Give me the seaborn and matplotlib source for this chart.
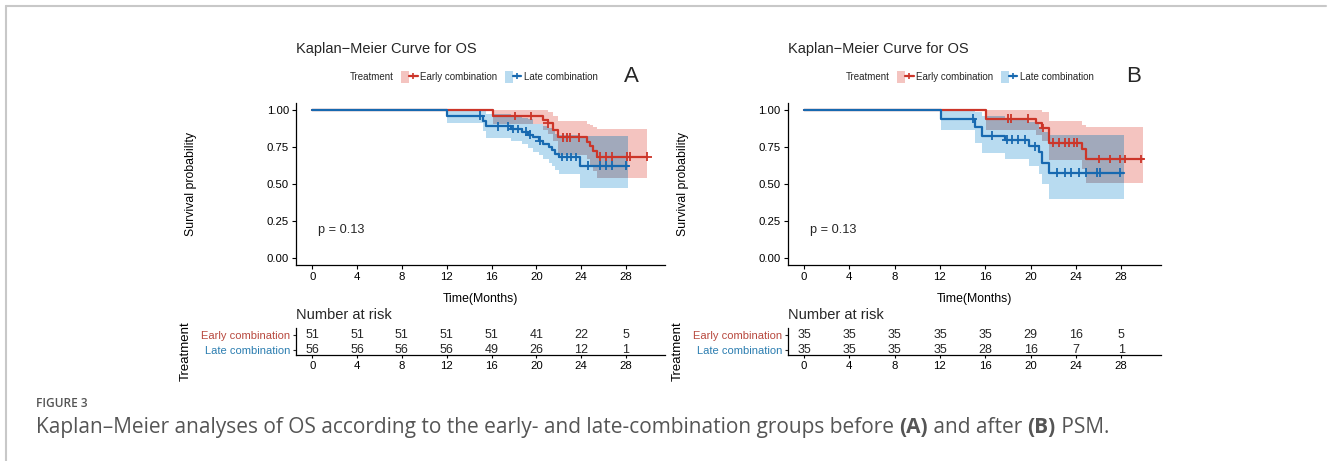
import numpy as np
import pandas as pd
import seaborn as sns
import matplotlib.pyplot as plt
from matplotlib.patches import Patch
from matplotlib.lines import Line2D
from matplotlib.legend_handler import HandlerTuple

sns.set_theme(style="ticks")
plt.rcParams['font.family'] = ['Liberation Sans', 'DejaVu Sans']

groups = ['Early combination', 'Late combination']
risk_times = [0, 4, 8, 12, 16, 20, 24, 28]

# ---- panel A (before PSM) ----
a_early_t = [0, 16.1, 20.6, 21.0, 21.5, 21.9, 24.5, 24.8, 25.1, 25.4]
a_early_s = [1.0, 0.961, 0.937, 0.912, 0.866, 0.818, 0.788, 0.757, 0.722, 0.685]
a_early_lo = [1.0, 0.91, 0.87, 0.84, 0.79, 0.70, 0.67, 0.63, 0.59, 0.54]
a_early_hi = [1.0, 1.0, 1.0, 0.99, 0.96, 0.93, 0.91, 0.90, 0.89, 0.876]
a_early_cens = [18.1, 19.5, 21.0, 22.4, 22.7, 23.0, 23.8, 25.7, 26.2, 26.8, 28.1, 28.4, 29.9]
a_early_end = 29.9

a_late_t = [0, 12.0, 15.2, 15.5, 17.7, 18.7, 19.3, 19.7, 20.2, 20.6, 21.1, 21.4, 21.7, 22.0, 23.9]
a_late_s = [1.0, 0.964, 0.929, 0.893, 0.874, 0.855, 0.836, 0.816, 0.795, 0.774, 0.752, 0.730, 0.706, 0.683, 0.625]
a_late_lo = [1.0, 0.915, 0.86, 0.815, 0.79, 0.77, 0.745, 0.72, 0.695, 0.67, 0.645, 0.62, 0.595, 0.565, 0.47]
a_late_hi = [1.0, 1.0, 1.0, 0.975, 0.965, 0.95, 0.94, 0.925, 0.91, 0.895, 0.88, 0.86, 0.84, 0.83, 0.825]
a_late_cens = [15.0, 16.6, 17.5, 17.9, 18.4, 19.1, 19.4, 20.3, 22.3, 22.7, 23.1, 23.5, 24.6, 25.7, 26.2, 26.8, 28.0]
a_late_end = 28.2

a_early_risk = [51, 51, 51, 51, 51, 41, 22, 5]
a_late_risk = [56, 56, 56, 56, 49, 26, 12, 1]

# ---- panel B (after PSM) ----
b_early_t = [0, 16.1, 20.5, 21.0, 21.6, 24.5, 24.9]
b_early_s = [1.0, 0.943, 0.913, 0.880, 0.780, 0.740, 0.670]
b_early_lo = [1.0, 0.87, 0.83, 0.79, 0.66, 0.60, 0.505]
b_early_hi = [1.0, 1.0, 1.0, 0.99, 0.93, 0.90, 0.885]
b_early_cens = [18.0, 18.3, 19.8, 21.1, 22.0, 22.5, 23.0, 23.4, 23.8, 24.1, 26.0, 27.0, 27.9, 28.3, 29.7]
b_early_end = 29.9

b_late_t = [0, 12.1, 15.1, 15.7, 17.7, 19.9, 20.7, 21.0, 21.6]
b_late_s = [1.0, 0.943, 0.886, 0.829, 0.800, 0.757, 0.714, 0.643, 0.577]
b_late_lo = [1.0, 0.87, 0.78, 0.71, 0.67, 0.62, 0.57, 0.50, 0.40]
b_late_hi = [1.0, 1.0, 0.99, 0.96, 0.95, 0.92, 0.89, 0.85, 0.83]
b_late_cens = [14.9, 16.6, 17.9, 18.4, 18.9, 19.5, 20.4, 22.3, 23.0, 23.6, 24.3, 24.9, 25.9, 26.1, 27.9]
b_late_end = 28.2

b_early_risk = [35, 35, 35, 35, 35, 29, 16, 5]
b_late_risk = [35, 35, 35, 35, 28, 16, 7, 1]

line_col = {'Early combination': '#CC3529', 'Late combination': '#1769B0'}
label_col = {'Early combination': '#B8493F', 'Late combination': '#2B7DB0'}
band_col = {'Early combination': '#F4C4C0', 'Late combination': '#B8DBF0'}
overlap_col = '#A1A9BB'

W, H = 1328, 461
fig = plt.figure(figsize=(W / 100, H / 100), dpi=100)


def fx(px):
    return px / W


def fy(py):
    return 1 - py / H


def step_at(t, v, x):
    idx = np.searchsorted(t, x, side='right') - 1
    return np.asarray(v)[idx]


def km_panel(x0, ppm, spine, curves, risks, letter, leg_x, treat_x, letter_x):
    xl = (spine - x0) / ppm
    xr = 31.5
    wpx = (xr - xl) * ppm
    ax = fig.add_axes([fx(spine), fy(265), fx(wpx), (265 - 103) / H])
    tab = fig.add_axes([fx(spine), fy(355), fx(wpx), 27.5 / H])

    # confidence bands
    for g in ['Late combination', 'Early combination']:
        t, s, lo, hi, cens, end = curves[g]
        ax.fill_between(np.append(t, end), np.append(lo, lo[-1]), np.append(hi, hi[-1]),
                        step='post', color=band_col[g], lw=0)
    # overlap of the two bands
    te, _, loe, hie, _, ende = curves['Early combination']
    tl, _, lol, hil, _, endl = curves['Late combination']
    grid = np.unique(np.concatenate([te, tl, [min(ende, endl)]]))
    grid = grid[grid <= min(ende, endl)]
    olo = np.maximum(step_at(te, loe, grid), step_at(tl, lol, grid))
    ohi = np.minimum(step_at(te, hie, grid), step_at(tl, hil, grid))
    ax.fill_between(grid, olo, ohi, where=ohi > olo, step='post', color=overlap_col, lw=0)

    rows, crow = [], []
    for g in groups:
        t, s, lo, hi, cens, end = curves[g]
        for ti, si in zip(list(t) + [end], list(s) + [s[-1]]):
            rows.append({'time': ti, 'surv': si, 'group': g})
        for c in cens:
            crow.append({'time': c, 'surv': step_at(t, s, c), 'group': g})
    df = pd.DataFrame(rows)
    cdf = pd.DataFrame(crow)
    sns.lineplot(data=df, x='time', y='surv', hue='group', hue_order=groups, palette=line_col,
                 drawstyle='steps-post', estimator=None, sort=False, legend=False, lw=1.6, ax=ax)
    sns.scatterplot(data=cdf, x='time', y='surv', hue='group', hue_order=groups, palette=line_col,
                    marker='+', s=40, linewidth=1.3, legend=False, ax=ax, zorder=4)

    ax.set_xlim(xl, xr)
    ax.set_ylim(-0.05, 1.05)
    ax.set_xticks(risk_times)
    ax.set_yticks([0, 0.25, 0.5, 0.75, 1.0])
    ax.set_yticklabels(['0.00', '0.25', '0.50', '0.75', '1.00'])
    ax.set_xlabel('Time(Months)', fontsize=8.8, color='black')
    ax.set_ylabel('Survival probability', fontsize=8.8, color='black')
    ax.xaxis.set_label_coords(0.5, -0.175)
    ax.yaxis.set_label_coords(-(spine - (spine - 106 + 7)) / wpx, 0.5)
    ax.tick_params(labelsize=8.2, length=3, width=0.8, pad=2, colors='black')
    for sp in ['top', 'right']:
        ax.spines[sp].set_visible(False)
    for sp in ['left', 'bottom']:
        ax.spines[sp].set_color('black')
        ax.spines[sp].set_linewidth(0.9)
    ax.text(0.5, 0.19, 'p = 0.13', fontsize=9.2, va='center', ha='left')
    ax.set_title('Kaplan\u2212Meier Curve for OS', loc='left', fontsize=10.5, pad=0, x=0,
                 y=(265 - 49) / 162, va='center')

    # legend
    handles = [(Patch(facecolor=band_col[g], edgecolor='none'),
                Line2D([], [], color=line_col[g], lw=1.6, marker='+', ms=5, mew=1.2)) for g in groups]
    fig.legend(handles, groups, handler_map={tuple: HandlerTuple(ndivide=None, pad=0)},
               loc='center left', bbox_to_anchor=(fx(leg_x), fy(77)), ncol=2, frameon=False,
               fontsize=7, handlelength=1.7, handleheight=1.5, handletextpad=0.25,
               columnspacing=0.8, borderpad=0, borderaxespad=0)
    fig.text(fx(treat_x), fy(77), 'Treatment', fontsize=7, ha='left', va='center')
    fig.text(fx(letter_x), fy(77), letter, fontsize=16, ha='left', va='center')

    # risk table
    for yv, g, n in [(2, 'Early combination', risks[0]), (1, 'Late combination', risks[1])]:
        for ti, ni in zip(risk_times, n):
            tab.text(ti, yv, str(ni), ha='center', va='center', fontsize=9)
    tab.set_xlim(xl, xr)
    tab.set_ylim(0.65, 2.5)
    tab.set_xticks(risk_times)
    tab.set_yticks([2, 1])
    tab.set_yticklabels(groups, fontsize=8)
    for lab, g in zip(tab.get_yticklabels(), groups):
        lab.set_color(label_col[g])
    tab.tick_params(axis='x', labelsize=8.2, length=2.5, width=0.8, pad=1.5, colors='black')
    tab.tick_params(axis='y', length=2.5, width=0.8, pad=1.5)
    for sp in ['top', 'right']:
        tab.spines[sp].set_visible(False)
    for sp in ['left', 'bottom']:
        tab.spines[sp].set_color('black')
        tab.spines[sp].set_linewidth(0.9)
    tab.set_xlabel('')
    tab.set_ylabel('Treatment', fontsize=9.5, color='black')
    tab.yaxis.set_label_coords(-(spine - (spine - 111 + 7)) / wpx, 0.15)
    tab.set_title('Number at risk', loc='left', fontsize=10.5, pad=0, x=0,
                  y=(355 - 315) / 27.5, va='center')
    return ax, tab


curves_a = {
    'Early combination': (a_early_t, a_early_s, a_early_lo, a_early_hi, a_early_cens, a_early_end),
    'Late combination': (a_late_t, a_late_s, a_late_lo, a_late_hi, a_late_cens, a_late_end),
}
curves_b = {
    'Early combination': (b_early_t, b_early_s, b_early_lo, b_early_hi, b_early_cens, b_early_end),
    'Late combination': (b_late_t, b_late_s, b_late_lo, b_late_hi, b_late_cens, b_late_end),
}

ax_a, tab_a = km_panel(312.3, 11.2, 296, curves_a, (a_early_risk, a_late_risk), 'A', 401, 350, 624)
ax_b, tab_b = km_panel(804, 11.33, 787.7, curves_b, (b_early_risk, b_late_risk), 'B', 897, 846, 1126)

# page frame
fig.add_artist(Line2D([fx(6), fx(1326)], [fy(6), fy(6)], color='#C8C8C8', lw=1.5))
fig.add_artist(Line2D([fx(6), fx(6)], [fy(6), 0], color='#C8C8C8', lw=1.5))

# caption
cap_font = ['Open Sans', 'DejaVu Sans']
cap_col = '#555555'
cap_size = 15
fig.text(fx(36), fy(403), 'FIGURE 3', fontsize=8.6, family=cap_font, weight='semibold',
         color=cap_col, va='center')
parts = [('Kaplan\u2013Meier analyses of OS according to the early- and late-combination groups before ', 'normal'),
         ('(A)', 'bold'), (' and after ', 'normal'), ('(B)', 'bold'), (' PSM.', 'normal')]
prev = fig.text(fx(36), fy(438), parts[0][0], fontsize=cap_size, family=cap_font,
                color=cap_col, va='bottom')
for txt, wt in parts[1:]:
    prev = ax_a.annotate(txt, xy=(1, 0), xycoords=prev, va='bottom', ha='left', fontsize=cap_size,
                         family=cap_font, color=cap_col, weight=wt, annotation_clip=False)

fig.savefig('out.png', dpi=100)
